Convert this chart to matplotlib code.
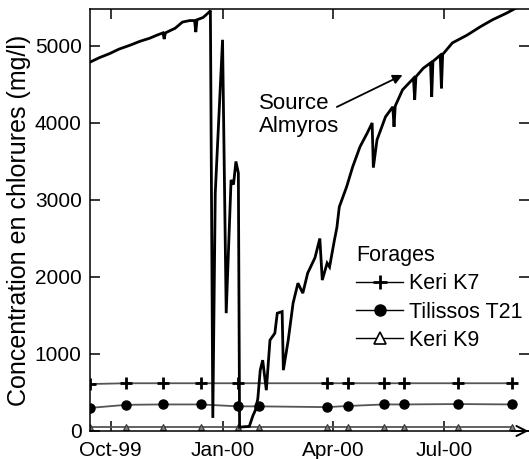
import numpy as np
import matplotlib
matplotlib.use("Agg")
import matplotlib.pyplot as plt
from matplotlib.lines import Line2D

plt.rcParams['font.family'] = ['Liberation Sans', 'DejaVu Sans']

# ---- Source Almyros chloride concentration (mg/l) ----
src_dates = [
    "1999-09-14", "1999-09-22", "1999-09-30", "1999-10-08", "1999-10-17", "1999-10-25",
    "1999-11-02", "1999-11-08", "1999-11-13", "1999-11-14", "1999-11-15", "1999-11-23",
    "1999-11-29", "1999-12-05", "1999-12-09", "1999-12-10", "1999-12-11", "1999-12-16",
    "1999-12-21", "1999-12-22", "1999-12-24", "1999-12-26", "2000-01-01", "2000-01-04",
    "2000-01-08", "2000-01-10", "2000-01-12", "2000-01-14", "2000-01-15", "2000-01-23",
    "2000-01-26", "2000-01-28", "2000-01-30", "2000-02-01", "2000-02-03", "2000-02-06",
    "2000-02-09", "2000-02-13", "2000-02-15", "2000-02-19", "2000-02-20", "2000-02-24",
    "2000-02-28", "2000-03-03", "2000-03-07", "2000-03-11", "2000-03-17", "2000-03-21",
    "2000-03-23", "2000-03-27", "2000-03-29", "2000-04-02", "2000-04-04", "2000-04-06",
    "2000-04-12", "2000-04-17", "2000-04-23", "2000-04-29", "2000-05-03", "2000-05-04",
    "2000-05-07", "2000-05-14", "2000-05-20", "2000-05-21", "2000-05-22", "2000-05-28",
    "2000-06-06", "2000-06-07", "2000-06-08", "2000-06-14", "2000-06-20", "2000-06-21",
    "2000-06-22", "2000-06-28", "2000-06-29", "2000-06-30", "2000-07-08", "2000-07-20",
    "2000-07-31", "2000-08-10", "2000-08-22", "2000-08-29",
]
src_values = [
    4790, 4850, 4900, 4960, 5010, 5060,
    5100, 5140, 5170, 5090, 5170, 5230,
    5310, 5330, 5330, 5180, 5340, 5370,
    5440, 5460, 170, 3090, 5080, 1530,
    3260, 3200, 3500, 3350, 50, 60,
    200, 270, 420, 790, 920, 530,
    1180, 1270, 1530, 1550, 790, 1180,
    1660, 1920, 1790, 2050, 2250, 2500,
    1960, 2180, 2130, 2480, 2640, 2910,
    3170, 3430, 3690, 3870, 4000, 3420,
    3780, 4080, 4210, 3950, 4220, 4430,
    4580, 4300, 4600, 4710, 4780, 4340,
    4800, 4880, 4450, 4890, 5040, 5140,
    5250, 5340, 5430, 5490,
]

# ---- Wells (forages) ----
k7_dates = ["1999-09-14", "1999-10-14", "1999-11-13", "1999-12-14", "2000-01-14",
            "2000-03-27", "2000-04-13", "2000-05-13", "2000-05-29", "2000-07-13", "2000-08-26"]
k7_values = [610, 620, 620, 620, 620, 620, 620, 620, 620, 620, 620]

t21_dates = ["1999-09-14", "1999-10-14", "1999-11-13", "1999-12-14", "2000-01-14", "2000-01-31",
             "2000-03-27", "2000-04-13", "2000-05-13", "2000-05-29", "2000-07-13", "2000-08-26"]
t21_values = [300, 340, 345, 345, 320, 320, 310, 325, 345, 345, 350, 345]

k9_dates = ["1999-09-14", "1999-10-14", "1999-11-13", "1999-12-14", "2000-01-14", "2000-01-31",
            "2000-03-27", "2000-04-13", "2000-05-13", "2000-05-29", "2000-07-13", "2000-08-26"]
k9_values = [50, 50, 50, 50, 50, 50, 50, 50, 50, 50, 50, 50]

x_ticks = ["1999-10-01", "2000-01-01", "2000-04-01", "2000-07-01"]
x_ticklabels = ["Oct-99", "Jan-00", "Apr-00", "Jul-00"]
y_ticks = [0, 1000, 2000, 3000, 4000, 5000]


def d(lst):
    return np.array(lst, dtype="datetime64[D]")


fig = plt.figure(figsize=(5.29, 4.59), dpi=100)
ax = fig.add_axes([90 / 529, 28 / 459, 439 / 529, 422 / 459])

ax.plot(d(src_dates), src_values, color="black", lw=2.0, solid_joinstyle="miter", zorder=3)

well_line = "#555555"
ax.plot(d(k7_dates), k7_values, color=well_line, lw=1.3, marker="+", ms=8, mew=2,
        mec="black", zorder=2)
ax.plot(d(t21_dates), t21_values, color=well_line, lw=1.3, marker="o", ms=6.5,
        mfc="black", mec="black", zorder=2)
ax.plot(d(k9_dates), k9_values, color=well_line, lw=1.3, marker="^", ms=5,
        mfc="#808080", mec="#333333", mew=0.8, zorder=2)

ax.set_xlim(np.datetime64("1999-09-14"), np.datetime64("2000-09-09"))
ax.set_ylim(0, 5480)

ax.set_xticks(d(x_ticks))
ax.set_xticklabels(x_ticklabels)
ax.set_yticks(y_ticks)
ax.set_yticklabels([str(v) for v in y_ticks])

for side in ["left", "bottom", "top"]:
    ax.spines[side].set_linewidth(1.1)
ax.spines["right"].set_visible(False)

ax.tick_params(axis="both", which="both", direction="in", length=7, width=1.1,
               top=True, right=True, labelsize=15)
ax.tick_params(axis="y", pad=6)
ax.tick_params(axis="x", pad=7)

ax.set_ylabel("Concentration en chlorures (mg/l)", fontsize=18, labelpad=3)

# arrow on x axis
ax.annotate("", xy=(0.999, 0), xytext=(0.96, 0), xycoords="axes fraction",
            arrowprops=dict(arrowstyle="->", lw=1.4, color="black",
                            mutation_scale=18, shrinkA=0, shrinkB=0),
            annotation_clip=False)

# Source annotation
ax.text(np.datetime64("2000-01-31"), 4100, "Source\nAlmyros", fontsize=16,
        ha="left", va="center", linespacing=1.15)
ax.annotate("", xy=(np.datetime64("2000-05-28"), 4623),
            xytext=(np.datetime64("2000-04-04"), 4208),
            arrowprops=dict(arrowstyle="-|>", lw=1.3, color="black",
                            mutation_scale=14, shrinkA=0, shrinkB=0))

handles = [
    Line2D([], [], color="black", lw=1.0, marker="+", ms=10, mew=2),
    Line2D([], [], color="black", lw=1.0, marker="o", ms=8, mfc="black"),
    Line2D([], [], color="black", lw=1.0, marker="^", ms=9, mfc="white", mec="black", mew=1.2),
]
leg = ax.legend(handles, ["Keri K7", "Tilissos T21", "Keri K9"], title="Forages",
                loc="upper left", bbox_to_anchor=((356 - 90) / 439, (431 - 245) / 422),
                frameon=False, fontsize=15.5, title_fontsize=15.5, borderpad=0,
                borderaxespad=0, handlelength=2.2, handletextpad=0.25,
                labelspacing=0.34, alignment="left")

fig.savefig("out.png", dpi=100)
